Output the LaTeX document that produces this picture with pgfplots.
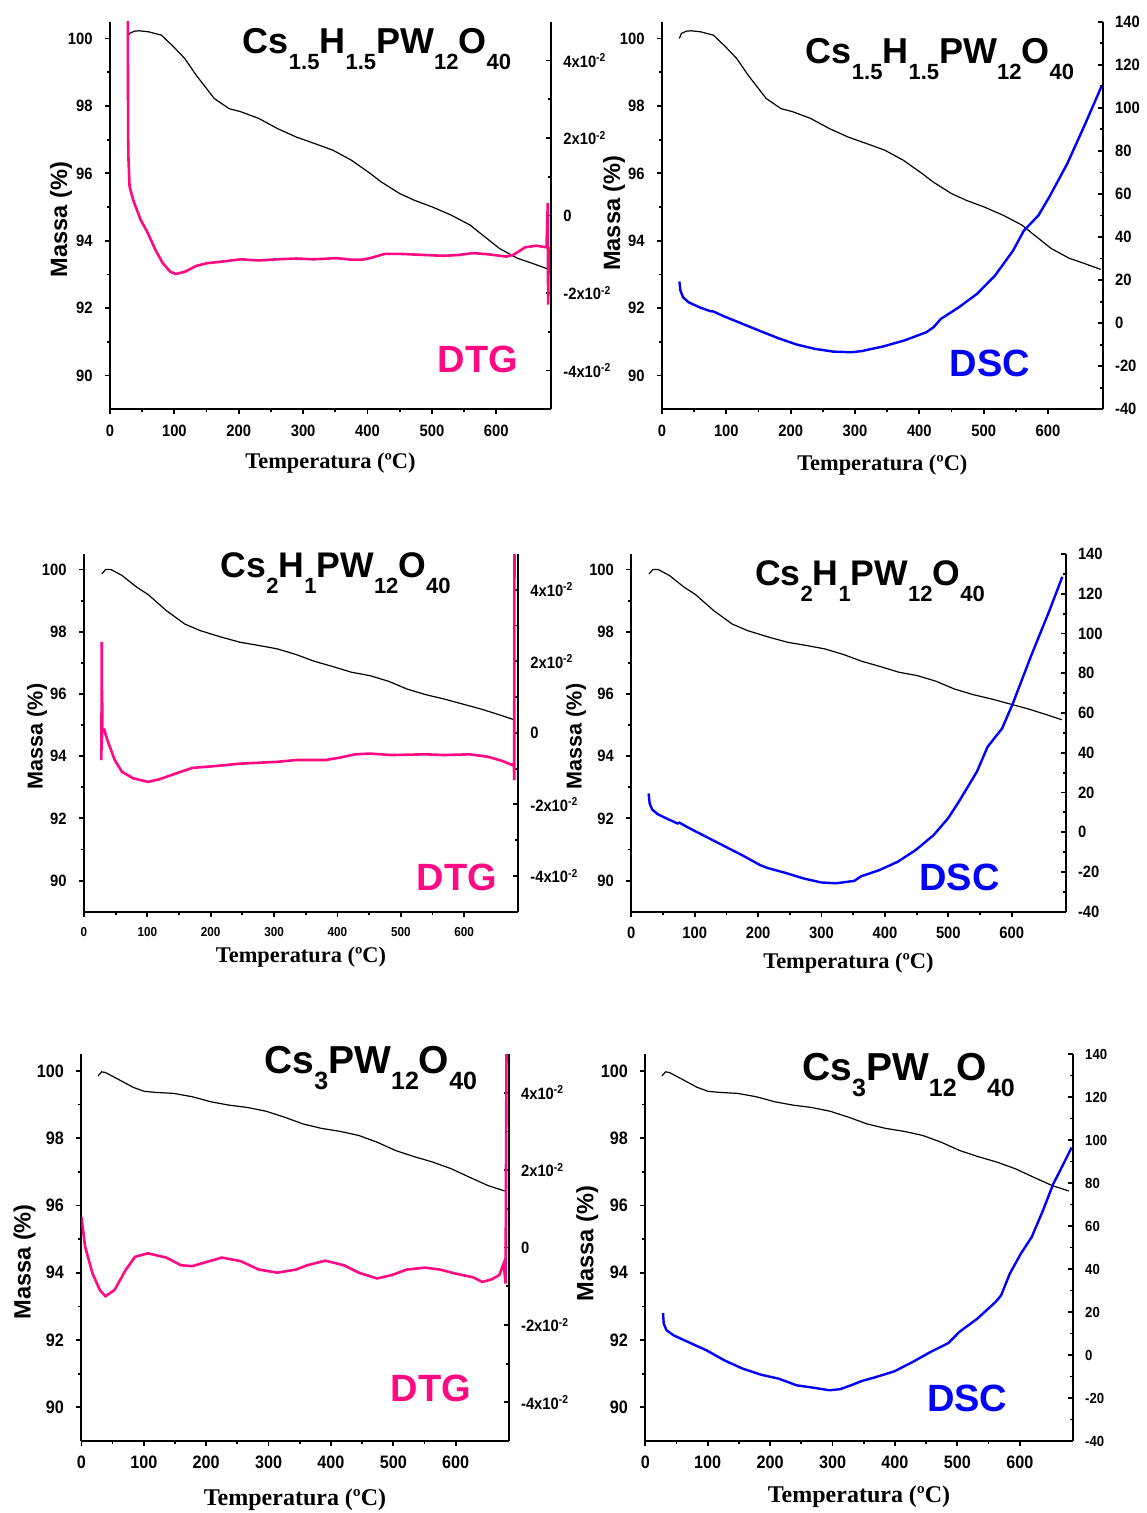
\documentclass[border=0pt]{standalone}
\usepackage{fontspec}
\setmainfont{Liberation Sans}
\newfontfamily\tmsfont{Liberation Serif}
\newfontfamily\tickfont{Liberation Sans}[FakeStretch=0.9]
\usepackage{pgfplots}
\pgfplotsset{compat=1.18}
\usepackage{pgfplotstable}

\definecolor{dtgpink}{RGB}{255,10,130}
\definecolor{dscblue}{RGB}{0,0,255}

\newcommand{\subsize}{10.5}
\newcommand{\sub}[1]{\raisebox{-8pt}{\fontsize{\subsize}{\subsize}\selectfont #1}}
\newcommand{\ttl}[2]{\fontsize{#1}{#1}\selectfont\bfseries\renewcommand{\subsize}{#2}}
\newcommand{\xten}[1]{#1x10\textsuperscript{-2}}

% TG, DTG and DSC curves
\pgfplotstableread{
T m
27 100.0
30 100.15
38 100.22
45 100.23
60 100.2
80 100.1
99 99.75
116 99.41
134 98.91
162 98.22
185 97.92
203 97.83
231 97.63
260 97.33
289 97.08
317 96.89
346 96.69
375 96.39
404 96.00
421 95.75
450 95.40
473 95.20
501 95.00
530 94.76
559 94.47
582 94.12
605 93.77
633 93.48
656 93.33
682 93.15
}\tgA
\pgfplotstableread{
T d
27.6 0.055
28.2 0.02
28.7 0.0144
30.4 0.0075
36 0.004
47.6 -0.0011
59 -0.0046
70.6 -0.0089
82 -0.0123
93.6 -0.0145
102 -0.0151
116.5 -0.0145
134 -0.013
151 -0.0123
174 -0.0119
203 -0.0113
231 -0.0116
260 -0.0113
289 -0.0111
317 -0.0113
352 -0.011
375 -0.0114
392 -0.0114
404 -0.011
427 -0.0099
450 -0.0099
490 -0.0102
518 -0.0104
541 -0.0102
564 -0.0097
587 -0.0100
616 -0.0106
627 -0.0101
645 -0.0082
662 -0.0078
678 -0.0082
680 0.0032
680.5 -0.023
681.5 -0.008
}\dtgA
\pgfplotstableread{
T q
27 19.35
28.6 15.2
32.5 12.1
41 9.75
58 7.4
74.6 5.6
80 5.4
97 3.1
125 -0.3
153 -3.7
181 -7.0
209 -9.9
237 -11.9
265.5 -13.2
293.6 -13.5
310 -13.0
322 -12.2
344 -10.8
377 -8.0
411 -4.2
422 -1.9
433.5 2.0
461.5 7.4
489.6 13.6
517.6 22.1
545.7 33.7
562.5 43.0
585 50.0
601.8 58.5
629.8 74.0
657.9 92.6
683 109.9
}\dscA
\pgfplotstableread{
T m
28 99.86
34 100.0
42.6 100.0
60 99.81
83.5 99.43
101 99.2
130 98.68
159 98.25
183 98.04
218 97.82
247 97.66
276 97.56
305 97.45
334.5 97.27
363.7 97.05
393 96.88
422 96.7
451 96.59
480.5 96.41
509.6 96.16
539 95.98
568 95.84
597 95.68
626 95.52
655.6 95.33
679 95.17
}\tgB
\pgfplotstableread{
T d
27.5 -0.0076
28 0.0254
28.3 -0.003
28.6 0.012
29 0.0007
32 0.0009
36.8 -0.002
48.5 -0.0076
60 -0.0109
77.6 -0.0127
101 -0.0137
118.5 -0.013
147.7 -0.0112
171 -0.0098
206 -0.0093
247 -0.0086
305 -0.0081
334.5 -0.0076
381 -0.0076
404.5 -0.0069
428 -0.006
451 -0.0058
486 -0.0062
539 -0.006
568 -0.0062
609 -0.006
638 -0.0067
661 -0.0079
676 -0.009
678.5 -0.0085
679 -0.0132
679.5 0.06
}\dtgB
\pgfplotstableread{
T q
27.3 19.5
29 14.4
33 11.4
41.5 9.1
55.7 6.9
72.8 4.4
76 4.8
89.9 2.3
118 -2.3
146.8 -7.0
175 -11.6
203.6 -16.6
215 -18.0
243.5 -20.5
272 -23.3
300 -25.3
323 -25.7
351.5 -24.5
363 -22.1
391 -19.1
420 -14.9
448 -9.1
476.7 -1.5
499.4 6.9
516.5 15.3
545 30.4
562 43
584.8 52.2
601.8 64.8
630 88.3
658.7 110.9
679.8 128.5
}\dscB
\pgfplotstableread{
T m
26.7 99.85
32.6 99.97
38.5 99.95
59 99.75
83 99.51
100.8 99.39
118.6 99.36
148 99.33
177.8 99.23
207.5 99.08
237 98.98
266.7 98.91
296 98.8
326 98.62
355.7 98.42
385 98.29
415 98.2
444.6 98.08
474 97.88
504 97.63
533.5 97.45
563 97.29
593 97.09
622 96.84
652 96.59
678.7 96.43
}\tgC
\pgfplotstableread{
T d
0 0.0079
6 0.0002
17.8 -0.0067
29.6 -0.011
38.5 -0.0126
53 -0.011
71 -0.0058
86 -0.0024
106.7 -0.0015
136 -0.0026
160 -0.0046
177.8 -0.0048
201.5 -0.0037
225 -0.0026
255 -0.0035
284.5 -0.0057
314 -0.0065
344 -0.0057
361.6 -0.0046
391 -0.0034
421 -0.0046
444.6 -0.0065
474 -0.008
498 -0.0071
521.6 -0.0057
551 -0.0052
575 -0.0057
598.7 -0.0067
628 -0.0077
643 -0.0089
658 -0.0082
670 -0.0071
677 -0.0041
680 -0.0093
681.7 0.06
}\dtgC
\pgfplotstableread{
T q
28.4 19.5
29.5 14.6
34 11.5
45.7 9.1
69 6.0
98 2.2
126.8 -2.5
155.8 -6.3
184.7 -9.1
213.7 -11.0
242.6 -14.1
271.6 -15.3
294.7 -16.4
312 -15.9
329.5 -14.1
346.8 -12.1
370 -10.2
399 -7.6
428 -3.3
456.9 1.4
485.8 5.6
503 10.7
532 16.9
561 24.6
570 27.7
584 37.8
601.6 47.1
619 54.8
636 66.4
653.7 79.6
665 86.0
683 96.5
}\dscC

\pgfplotsset{
  common/.style={scale only axis, anchor=south west, xmin=0, xmax=685,
    axis line style={-, line width=1pt},
    major tick length=2.5pt, minor tick length=1.5pt,
    tick style={black, line width=0.9pt},
    /pgf/number format/assume math mode=true, scaled ticks=false,
    tick label style={font=\tickfont\bfseries\fontsize{8.2}{8.2}\selectfont, inner sep=0pt},
  },
  tgax/.style={common, ymin=89, ymax=100.5,
    axis x line*=bottom, axis y line*=left, tick align=outside,
    xtick={0,100,...,600}, minor x tick num=1,
    ytick={90,92,...,100}, minor y tick num=1,
    xlabel={Temperatura (ºC)}, ylabel={Massa (\%)},
    xlabel style={font=\tmsfont\bfseries\fontsize{11.2}{12}\selectfont, anchor=center},
    ylabel style={font=\bfseries\fontsize{11.8}{12}\selectfont, anchor=center},
    yticklabel style={xshift=-6pt}, xticklabel style={yshift=-5pt},
  },
  rax/.style={common, axis x line=none, axis y line*=right, tick align=inside,
    yticklabel style={anchor=west, xshift=6pt}},
  dtgax/.style={rax, ymin=-0.05, ymax=0.05, ytick={-0.04,-0.02,0,0.02,0.04},
    minor y tick num=1,
    yticklabels={\xten{-4},\xten{-2},0,\xten{2},\xten{4}}},
  dscax/.style={rax, ymin=-40, ymax=140, ytick={-40,-20,...,140}, minor y tick num=1,
    yticklabels={-40,-20,0,20,40,60,80,100,120,140}},
  tgline/.style={black, line width=0.6pt, no marks},
  dtgline/.style={dtgpink, line width=1.3pt, no marks},
  dscline/.style={dscblue, line width=1.2pt, no marks},
}
\tikzset{
  dtgtxt/.style={font=\bfseries\fontsize{19}{19}\selectfont, text=dtgpink, inner sep=0pt, anchor=center},
  dsctxt/.style={font=\bfseries\fontsize{19}{19}\selectfont, text=dscblue, inner sep=0pt, anchor=center},
}

\begin{document}
\begin{tikzpicture}
\path[use as bounding box] (0pt,0pt) rectangle (573pt,-756.5pt);

% row 1
\begin{axis}[tgax, at={(55pt,-204.65pt)}, width=220.5pt, height=193.8pt,
  xlabel style={at={(axis description cs:0.5,-0.1385)}},
  ylabel style={at={(axis description cs:-0.111,0.49)}}]
\addplot[tgline] table {\tgA};
\end{axis}
\begin{axis}[dtgax, at={(55pt,-204.65pt)}, width=220.5pt, height=193.8pt]
\addplot[dtgline] table {\dtgA};
\end{axis}
\node[anchor=base] at (188.5pt,-26.65pt) {\ttl{18}{11}Cs\sub{1.5}H\sub{1.5}PW\sub{12}O\sub{40}};
\node[dtgtxt] at (239pt,-179.5pt) {DTG};

\begin{axis}[tgax, at={(331pt,-204.65pt)}, width=220.35pt, height=193.8pt,
  xlabel style={at={(axis description cs:0.5,-0.1437)}},
  ylabel style={at={(axis description cs:-0.109,0.506)}}]
\addplot[tgline] table {\tgA};
\end{axis}
\begin{axis}[dscax, at={(331pt,-204.65pt)}, width=220.35pt, height=193.8pt]
\addplot[dscline] table {\dscA};
\end{axis}
\node[anchor=base] at (470pt,-31.7pt) {\ttl{18}{11}Cs\sub{1.5}H\sub{1.5}PW\sub{12}O\sub{40}};
\node[dsctxt] at (494.9pt,-181.7pt) {DSC};

% row 2
\begin{axis}[tgax, at={(42pt,-455.85pt)}, width=217pt, height=178.85pt,
  xticklabel style={font=\tickfont\bfseries\fontsize{6.5}{6.5}\selectfont},
  xlabel style={at={(axis description cs:0.5,-0.1258)}},
  ylabel style={font=\bfseries\fontsize{10.8}{11}\selectfont, at={(axis description cs:-0.108,0.49)}}]
\addplot[tgline] table {\tgB};
\end{axis}
\begin{axis}[dtgax, at={(42pt,-455.85pt)}, width=217pt, height=178.85pt]
\addplot[dtgline] table {\dtgB};
\end{axis}
\node[anchor=base] at (167.9pt,-288.7pt) {\ttl{17.8}{11}Cs\sub{2}H\sub{1}PW\sub{12}O\sub{40}};
\node[dtgtxt] at (228.5pt,-438.75pt) {DTG};

\begin{axis}[tgax, at={(315.65pt,-455.85pt)}, width=217.15pt, height=178.85pt,
  xlabel style={at={(axis description cs:0.5,-0.1434)}},
  ylabel style={font=\bfseries\fontsize{10.8}{11}\selectfont, at={(axis description cs:-0.127,0.49)}}]
\addplot[tgline] table {\tgB};
\end{axis}
\begin{axis}[dscax, at={(315.65pt,-455.85pt)}, width=217.15pt, height=178.85pt]
\addplot[dscline] table {\dscB};
\end{axis}
\node[anchor=base] at (435pt,-292.5pt) {\ttl{17.8}{11}Cs\sub{2}H\sub{1}PW\sub{12}O\sub{40}};
\node[dsctxt] at (479.8pt,-438.75pt) {DSC};

% row 3
\begin{axis}[tgax, at={(40.7pt,-720.5pt)}, width=213.65pt, height=193.5pt,
  tick label style={font=\tickfont\bfseries\fontsize{9}{9}\selectfont},
  xlabel style={font=\tmsfont\bfseries\fontsize{12}{12}\selectfont, at={(axis description cs:0.5,-0.1525)}},
  ylabel style={at={(axis description cs:-0.133,0.463)}}]
\addplot[tgline] table {\tgC};
\end{axis}
\begin{axis}[dtgax, at={(40.7pt,-720.5pt)}, width=213.65pt, height=193.5pt]
\addplot[dtgline] table {\dtgC};
\end{axis}
\node[anchor=base] at (185.4pt,-536.7pt) {\ttl{19.5}{12.5}Cs\sub{3}PW\sub{12}O\sub{40}};
\node[dtgtxt] at (215.4pt,-694.2pt) {DTG};

\begin{axis}[tgax, at={(322.65pt,-720.5pt)}, width=213.75pt, height=193.5pt,
  tick label style={font=\tickfont\bfseries\fontsize{9}{9}\selectfont},
  xlabel style={font=\tmsfont\bfseries\fontsize{12}{12}\selectfont, at={(axis description cs:0.5,-0.1439)}},
  ylabel style={at={(axis description cs:-0.136,0.51)}}]
\addplot[tgline] table {\tgC};
\end{axis}
\begin{axis}[dscax, at={(322.65pt,-720.5pt)}, width=213.75pt, height=193.5pt,
  tick label style={font=\tickfont\bfseries\fontsize{7.3}{7.3}\selectfont}]
\addplot[dscline] table {\dscC};
\end{axis}
\node[anchor=base] at (454.3pt,-540.3pt) {\ttl{19.5}{12.5}Cs\sub{3}PW\sub{12}O\sub{40}};
\node[dsctxt] at (483.6pt,-699.2pt) {DSC};

\end{tikzpicture}
\end{document}
